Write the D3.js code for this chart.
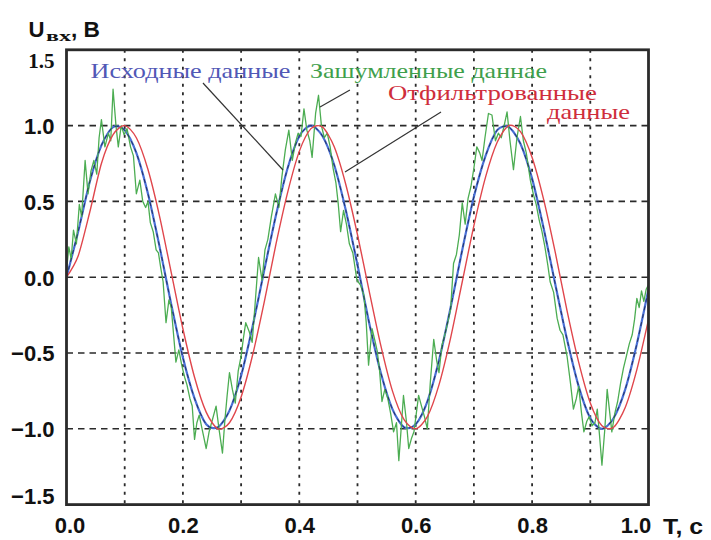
<!DOCTYPE html>
<html>
<head>
<meta charset="utf-8">
<script src="https://cdn.jsdelivr.net/npm/d3@7"></script>
<style>
  html, body { margin: 0; padding: 0; background: #ffffff; }
  svg { display: block; }
</style>
</head>
<body>
<svg id="chart" width="711" height="540"></svg>
<script>
// ---------------- DATA ----------------
const timeGrid = [0.00,0.02,0.04,0.06,0.08,0.10,0.12,0.14,0.16,0.18,0.20,0.22,0.24,0.26,0.28,0.30,0.32,0.34,0.36,0.38,0.40,0.42,0.44,0.46,0.48,0.50,0.52,0.54,0.56,0.58,0.60,0.62,0.64,0.66,0.68,0.70,0.72,0.74,0.76,0.78,0.80,0.82,0.84,0.86,0.88,0.90,0.92,0.94,0.96,0.98,1.00];

// "Исходные данные" (original signal)
const originalValues = [0.00,0.30,0.63,0.87,0.99,0.97,0.82,0.55,0.20,-0.18,-0.53,-0.80,-0.97,-0.99,-0.88,-0.65,-0.32,0.05,0.41,0.72,0.93,1.00,0.93,0.74,0.44,0.08,-0.30,-0.63,-0.87,-0.99,-0.97,-0.82,-0.55,-0.20,0.18,0.53,0.80,0.97,0.99,0.88,0.65,0.32,-0.05,-0.41,-0.72,-0.93,-1.00,-0.93,-0.74,-0.44,-0.08];

// "Отфильтрованные данные" (filtered signal)
const filteredValues = [0.00,0.14,0.43,0.75,0.94,1.00,0.92,0.71,0.40,0.03,-0.34,-0.66,-0.89,-1.00,-0.96,-0.79,-0.51,-0.16,0.22,0.56,0.83,0.98,0.99,0.86,0.61,0.28,-0.09,-0.45,-0.75,-0.94,-1.00,-0.92,-0.71,-0.40,-0.03,0.34,0.66,0.89,1.00,0.96,0.79,0.51,0.16,-0.22,-0.56,-0.83,-0.98,-0.99,-0.86,-0.61,-0.28];

// "Зашумленные даннае" (noisy signal): [time, value]
const noisyPoints = [
[0.000,0.04],[0.004,0.20],[0.008,0.12],[0.012,0.31],[0.017,0.22],[0.022,0.48],[0.026,0.40],[0.032,0.77],[0.037,0.55],[0.042,0.70],
[0.047,0.77],[0.052,0.68],[0.056,0.92],[0.060,1.04],[0.066,0.86],[0.072,0.95],[0.076,0.90],[0.080,1.24],[0.085,1.00],[0.089,0.86],
[0.094,1.00],[0.099,0.94],[0.104,0.98],[0.110,0.86],[0.115,0.80],[0.120,0.55],[0.126,0.64],[0.131,0.50],[0.136,0.46],[0.140,0.50],
[0.144,0.36],[0.149,0.30],[0.154,0.18],[0.158,0.16],[0.162,0.06],[0.166,-0.03],[0.171,-0.30],[0.176,-0.15],[0.180,-0.20],[0.184,-0.38],
[0.188,-0.56],[0.193,-0.48],[0.198,-0.58],[0.203,-0.66],[0.207,-0.71],[0.212,-0.80],[0.216,-0.85],[0.220,-1.07],[0.224,-0.96],[0.228,-0.91],
[0.234,-1.02],[0.240,-1.13],[0.245,-1.02],[0.250,-0.95],[0.257,-0.85],[0.262,-1.00],[0.268,-1.16],[0.272,-0.95],[0.276,-0.78],[0.280,-0.63],
[0.285,-0.74],[0.290,-0.83],[0.295,-0.62],[0.300,-0.52],[0.304,-0.40],[0.308,-0.30],[0.314,-0.36],[0.319,-0.43],[0.324,-0.18],[0.330,0.13],
[0.336,-0.02],[0.341,0.18],[0.346,0.25],[0.352,0.40],[0.359,0.55],[0.365,0.46],[0.370,0.66],[0.376,0.84],[0.382,0.97],[0.388,0.77],
[0.393,0.88],[0.398,0.95],[0.403,0.93],[0.408,1.11],[0.413,0.97],[0.418,0.90],[0.422,0.79],[0.428,1.08],[0.433,1.20],[0.438,1.00],
[0.443,0.92],[0.448,0.95],[0.453,0.86],[0.458,0.72],[0.463,0.62],[0.467,0.48],[0.471,0.30],[0.476,0.44],[0.481,0.35],[0.486,0.22],
[0.492,0.16],[0.499,-0.02],[0.505,-0.05],[0.511,-0.12],[0.515,-0.30],[0.519,-0.58],[0.525,-0.34],[0.530,-0.42],[0.534,-0.49],[0.538,-0.62],
[0.542,-0.82],[0.547,-0.74],[0.552,-0.80],[0.557,-0.90],[0.562,-1.02],[0.567,-0.96],[0.571,-1.21],[0.575,-1.00],[0.579,-0.78],[0.584,-0.95],
[0.588,-1.13],[0.593,-1.06],[0.597,-1.02],[0.601,-0.90],[0.605,-0.78],[0.610,-0.85],[0.615,-0.92],[0.620,-1.00],[0.625,-0.70],[0.631,-0.41],
[0.636,-0.55],[0.640,-0.63],[0.645,-0.45],[0.650,-0.38],[0.655,-0.30],[0.660,-0.21],[0.665,0.09],[0.670,0.15],[0.675,0.28],[0.680,0.49],
[0.685,0.35],[0.690,0.52],[0.695,0.60],[0.700,0.72],[0.705,0.86],[0.710,0.82],[0.714,0.77],[0.719,0.92],[0.725,1.08],[0.731,1.07],
[0.737,0.90],[0.742,0.95],[0.747,0.92],[0.752,1.00],[0.757,1.09],[0.762,0.90],[0.768,0.71],[0.774,0.92],[0.780,1.06],[0.785,0.90],
[0.790,0.82],[0.797,0.64],[0.802,0.55],[0.807,0.48],[0.812,0.38],[0.817,0.30],[0.822,0.20],[0.827,0.08],[0.831,-0.03],[0.837,-0.10],
[0.843,-0.27],[0.848,-0.35],[0.853,-0.38],[0.860,-0.52],[0.866,-0.70],[0.871,-0.87],[0.876,-0.80],[0.880,-0.72],[0.885,-0.90],[0.889,-1.02],
[0.894,-0.95],[0.898,-0.92],[0.903,-0.98],[0.908,-0.96],[0.912,-0.87],[0.916,-1.05],[0.920,-1.24],[0.925,-1.00],[0.929,-0.74],[0.933,-0.88],
[0.937,-1.02],[0.942,-0.90],[0.947,-0.82],[0.952,-0.70],[0.957,-0.60],[0.962,-0.52],[0.967,-0.44],[0.972,-0.38],[0.976,-0.28],[0.980,-0.14],
[0.984,-0.20],[0.988,-0.09],[0.992,-0.16],[0.996,-0.08],[1.000,-0.05]
];

const xTickValues = [0.0, 0.2, 0.4, 0.6, 0.8, 1.0];
const yTickValues = [-1.5, -1.0, -0.5, 0.0, 0.5, 1.0, 1.5];
const xGridValues = [0.1,0.2,0.3,0.4,0.5,0.6,0.7,0.8,0.9];
const yGridValues = [-1.0,-0.5,0.0,0.5,1.0];

const yAxisTitleMain = "U";
const yAxisTitleSub = "вх";
const yAxisTitleUnit = ", B";
const xAxisTitle = "T, c";

const labelOriginal = "Исходные данные";
const labelNoisy = "Зашумленные даннае";
const labelFiltered1 = "Отфильтрованные";
const labelFiltered2 = "данные";

// leader lines, in data units: [[t0,v0],[t1,v1]]
const leaderOriginal = [[0.2345,1.281],[0.372,0.707]];
const leaderNoisy = [[0.487,1.235],[0.4356,1.123]];
const leaderFiltered = [[0.6435,1.089],[0.4785,0.694]];

// ---------------- DRAWING ----------------
const svg = d3.select("#chart");
const x = d3.scaleLinear().domain([0, 1]).range([66.5, 648.5]);
const y = d3.scaleLinear().domain([-1.5, 1.5]).range([504.6, 49.8]);

const colBlue = "#4a70d6", colGreen = "#4cad52", colRed = "#e0464c";

// grid
svg.append("g").selectAll("line").data(xGridValues).join("line")
  .attr("x1", d => x(d)).attr("x2", d => x(d))
  .attr("y1", y(1.5)).attr("y2", y(-1.5))
  .attr("stroke", "#2a2a2a").attr("stroke-width", 1.8)
  .attr("stroke-dasharray", "3,5.5");
svg.append("g").selectAll("line").data(yGridValues).join("line")
  .attr("x1", x(0)).attr("x2", x(1))
  .attr("y1", d => y(d)).attr("y2", d => y(d))
  .attr("stroke", "#2a2a2a").attr("stroke-width", 1.6)
  .attr("stroke-dasharray", "6.5,5");

// curves
svg.append("clipPath").attr("id", "clip").append("rect")
  .attr("x", x(0)).attr("y", y(1.5)).attr("width", x(1) - x(0)).attr("height", y(-1.5) - y(1.5));
const plot = svg.append("g").attr("clip-path", "url(#clip)");

const lineSmooth = d3.line().x(d => x(d[0])).y(d => y(d[1])).curve(d3.curveCardinal.tension(0.2));
const lineLinear = d3.line().x(d => x(d[0])).y(d => y(d[1]));

const originalPts = timeGrid.map((t, i) => [t, originalValues[i]]);
const filteredPts = timeGrid.map((t, i) => [t, filteredValues[i]]);

plot.append("path").attr("d", lineSmooth(originalPts))
  .attr("fill", "none").attr("stroke", colBlue).attr("stroke-width", 2.2);
plot.append("path").attr("d", lineLinear(noisyPoints))
  .attr("fill", "none").attr("stroke", colGreen).attr("stroke-width", 1.3)
  .attr("stroke-linejoin", "round");
plot.append("path").attr("d", lineSmooth(originalPts))
  .attr("fill", "none").attr("stroke", "#1c2348").attr("stroke-width", 1.0)
  .attr("stroke-dasharray", "4,4").attr("opacity", 0.8);
plot.append("path").attr("d", lineSmooth(filteredPts))
  .attr("fill", "none").attr("stroke", colRed).attr("stroke-width", 1.4);

// leader lines
[leaderOriginal, leaderNoisy, leaderFiltered].forEach(l => {
  svg.append("path").attr("d", lineLinear(l))
    .attr("fill", "none").attr("stroke", "#333").attr("stroke-width", 1.2);
});

// frame
svg.append("rect")
  .attr("x", x(0)).attr("y", y(1.5))
  .attr("width", x(1) - x(0)).attr("height", y(-1.5) - y(1.5))
  .attr("fill", "none").attr("stroke", "#2b2b2b").attr("stroke-width", 2.8);

// axes
const fmt = d3.format(".1f");
const yAxis = svg.append("g").attr("transform", `translate(${x(0)},0)`)
  .call(d3.axisLeft(y).tickValues(yTickValues).tickFormat(fmt).tickSize(0).tickPadding(12));
yAxis.select(".domain").remove();
yAxis.selectAll("text")
  .attr("font-family", "'Liberation Sans', Arial, sans-serif")
  .attr("font-weight", "bold").attr("font-size", 22).attr("fill", "#111")
  .attr("dy", d => d === 1.5 ? "0.85em" : d === -1.5 ? "-0.05em" : "0.36em")
  .each(function(d) {
    if (d === 1.5) d3.select(this).attr("font-family", "'Liberation Serif', 'Times New Roman', serif").attr("font-size", 21);
  });

const xAxis = svg.append("g").attr("transform", `translate(0,${y(-1.5)})`)
  .call(d3.axisBottom(x).tickValues(xTickValues).tickFormat(fmt).tickSize(0).tickPadding(13));
xAxis.select(".domain").remove();
xAxis.selectAll("text")
  .attr("font-family", "'Liberation Sans', Arial, sans-serif")
  .attr("font-weight", "bold").attr("font-size", 22).attr("fill", "#111")
  .attr("dx", d => d === 1.0 ? -13 : d === 0 ? 3 : 0);

// axis titles
const sans = "'Liberation Sans', Arial, sans-serif";
const serif = "'Liberation Serif', 'Times New Roman', serif";
svg.append("text").attr("x", 28.5).attr("y", 37)
  .attr("font-family", sans).attr("font-weight", "bold").attr("font-size", 22).attr("fill", "#111")
  .attr("textLength", 16).attr("lengthAdjust", "spacingAndGlyphs")
  .text(yAxisTitleMain);
svg.append("text").attr("x", 46).attr("y", 41)
  .attr("font-family", serif).attr("font-weight", "bold").attr("font-size", 15).attr("fill", "#111")
  .attr("textLength", 25).attr("lengthAdjust", "spacingAndGlyphs")
  .text(yAxisTitleSub);
svg.append("text").attr("x", 71).attr("y", 37)
  .attr("font-family", sans).attr("font-weight", "bold").attr("font-size", 22).attr("fill", "#111")
  .attr("textLength", 29).attr("lengthAdjust", "spacingAndGlyphs")
  .text(yAxisTitleUnit);

svg.append("text").attr("x", 663).attr("y", 534)
  .attr("font-family", sans)
  .attr("font-weight", "bold").attr("font-size", 22).attr("fill", "#111")
  .attr("textLength", 40).attr("lengthAdjust", "spacingAndGlyphs")
  .text(xAxisTitle);

// series labels
function label(txt, px, py, w, color) {
  svg.append("text").attr("x", px).attr("y", py)
    .attr("font-family", serif).attr("font-size", 21).attr("fill", color)
    .attr("textLength", w).attr("lengthAdjust", "spacingAndGlyphs")
    .text(txt);
}
label(labelOriginal, 90.5, 78, 200, "#5158b6");
label(labelNoisy, 310, 78, 237, "#3f9f4c");
label(labelFiltered1, 388, 100, 209, "#cf2e3c");
label(labelFiltered2, 547, 119, 83, "#cf2e3c");
</script>
</body>
</html>
